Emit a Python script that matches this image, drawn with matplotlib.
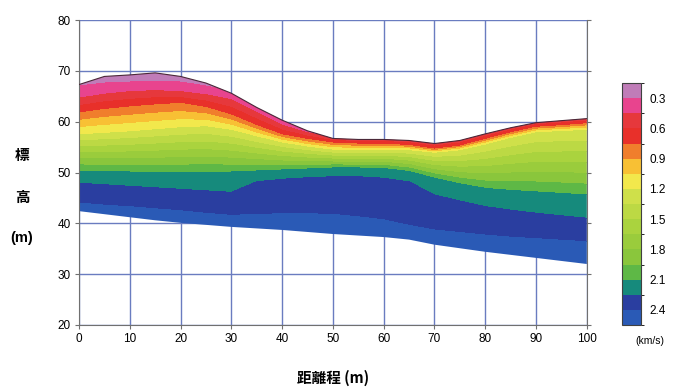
import numpy as np
import matplotlib
matplotlib.use("Agg")
import matplotlib.pyplot as plt
from matplotlib.colors import ListedColormap, BoundaryNorm
from matplotlib.patches import Polygon

# distance stations (m)
x_st = [0, 5, 10, 15, 20, 25, 30, 35, 40, 45, 50, 55, 60, 65, 70, 75, 80, 85, 90, 95, 100]

# ground surface and bottom of the section (elevation, m)
surface = [67.3, 68.9, 69.2, 69.6, 68.9, 67.6, 65.6, 62.8, 60.3, 58.2, 56.7, 56.5, 56.5, 56.3, 55.7, 56.3, 57.6, 58.8, 59.8, 60.2, 60.6]
bottom = [42.4, 41.8, 41.2, 40.6, 40.1, 39.7, 39.3, 39.0, 38.7, 38.3, 37.9, 37.6, 37.3, 36.8, 35.8, 35.1, 34.4, 33.8, 33.2, 32.6, 32.0]

# elevation of velocity contours (km/s -> elevation array)
e_015 = [72.0] * 21
e_03 = [67.0, 67.6, 67.8, 68.0, 67.8, 67.0, 66.0, 63.2, 60.6, 58.6, 57.2, 57.0, 57.0, 56.8, 56.2, 56.8, 58.1, 59.3, 60.3, 60.7, 61.1]
e_045 = [64.6, 65.4, 65.9, 66.1, 65.9, 65.3, 64.3, 61.8, 59.3, 57.8, 56.8, 56.6, 56.6, 56.4, 55.8, 56.4, 57.7, 58.9, 59.9, 60.3, 60.7]
e_075 = [61.7, 62.4, 62.9, 63.3, 63.6, 62.8, 61.3, 59.2, 57.4, 56.5, 55.8, 55.6, 55.6, 55.3, 54.6, 55.2, 56.5, 57.8, 58.9, 59.2, 59.6]
e_12 = [57.4, 57.7, 58.0, 58.4, 58.8, 59.0, 58.3, 57.0, 55.8, 55.0, 54.4, 54.3, 54.4, 54.3, 53.8, 54.3, 55.4, 56.7, 57.8, 58.1, 58.3]
e_21 = [50.3, 50.2, 50.1, 50.0, 50.0, 50.0, 50.1, 50.3, 50.5, 50.7, 50.9, 50.9, 50.8, 50.2, 48.9, 47.8, 46.9, 46.5, 46.2, 45.9, 45.6]
e_225 = [47.9, 47.6, 47.3, 47.0, 46.7, 46.4, 46.1, 48.2, 48.7, 49.0, 49.2, 49.2, 48.9, 48.2, 45.6, 44.4, 43.3, 42.6, 42.0, 41.5, 41.0]
e_24 = [44.0, 43.6, 43.3, 42.9, 42.5, 42.0, 41.6, 41.8, 41.9, 41.9, 41.8, 41.3, 40.7, 39.6, 38.7, 38.2, 37.7, 37.3, 37.0, 36.7, 36.4]
e_255 = [25.0] * 21

knot_vel = [0.15, 0.3, 0.45, 0.75, 1.2, 2.1, 2.25, 2.4, 2.55]
knot_elev = [e_015, e_03, e_045, e_075, e_12, e_21, e_225, e_24, e_255]

levels = [0.15, 0.3, 0.45, 0.6, 0.75, 0.9, 1.05, 1.2, 1.35, 1.5, 1.65, 1.8, 1.95, 2.1, 2.25, 2.4, 2.55]
band_colors = ['#c07cb8', '#e8448e', '#e6383c', '#e8302a', '#f07e2c', '#f8c034',
               '#f2e84c', '#cfe04a', '#bcd944', '#aad33e', '#9acc3c', '#8ac63c',
               '#5eb846', '#168a7c', '#2a3ea0', '#2a5ab6']
cbar_ticks = [0.3, 0.6, 0.9, 1.2, 1.5, 1.8, 2.1, 2.4]

# build velocity grid from the contour elevations
xg = np.linspace(0, 100, 501)
yg = np.linspace(25, 75, 501)
V = np.zeros((len(yg), len(xg)))
for j, xv in enumerate(xg):
    el = [np.interp(xv, x_st, e) for e in knot_elev]
    V[:, j] = np.interp(yg, el[::-1], knot_vel[::-1])

cmap = ListedColormap(band_colors)
norm = BoundaryNorm(levels, cmap.N)

fig = plt.figure(figsize=(6.78, 3.88), dpi=100)
ax = fig.add_axes([0.1165, 0.1624, 0.749, 0.786])

cs = ax.contourf(xg, yg, V, levels=levels, cmap=cmap, norm=norm, zorder=2)
verts = list(zip(x_st, surface)) + list(zip(x_st[::-1], bottom[::-1]))
clip = Polygon(verts, closed=True, transform=ax.transData)
cs.set_clip_path(clip)
ax.plot(x_st, surface, color='#4a2838', lw=0.8, zorder=3)

ax.set_xlim(0, 100)
ax.set_ylim(20, 80)
ax.set_xticks(range(0, 101, 10))
ax.set_yticks(range(20, 81, 10))
ax.grid(True, color='#6a7cc0', lw=1.0)
ax.set_axisbelow(True)
for s in ['left', 'bottom', 'right']:
    ax.spines[s].set_color('#707070')
ax.spines['top'].set_visible(False)
ax.tick_params(axis='both', length=3, color='#707070', labelsize=8.5, pad=3)
ax.tick_params(axis='y', right=True, direction='out')
for lab in ax.get_xticklabels() + ax.get_yticklabels():
    lab.set_family('Liberation Sans')

cjk = ['Noto Sans CJK JP', 'DejaVu Sans']
fig.text(22 / 678, 1 - 155 / 388, '標', family=cjk, fontsize=10.5, fontweight='bold', ha='center', va='center')
fig.text(22 / 678, 1 - 197 / 388, '高', family=cjk, fontsize=10.5, fontweight='bold', ha='center', va='center')
fig.text(22 / 678, 1 - 238 / 388, '(m)', family='Liberation Sans', fontsize=10.5, fontweight='bold', ha='center', va='center')
fig.text(333 / 678, 1 - 378 / 388, '距離程 (m)', family=cjk, fontsize=10.5, fontweight='bold', ha='center', va='center')

cax = fig.add_axes([622 / 678, 1 - 325 / 388, 19 / 678, 242 / 388])
cb = fig.colorbar(cs, cax=cax, ticks=cbar_ticks, drawedges=True)
cax.invert_yaxis()
cb.outline.set_edgecolor('#404040')
cb.dividers.set_color('#303030')
cb.dividers.set_linewidth(0.8)
cax.tick_params(length=0, labelsize=8.5, pad=6)
cax.set_yticklabels([f'{t:.1f}' for t in cbar_ticks], family='Liberation Sans')
fig.text(650 / 678, 1 - 341 / 388, '(km/s)', family='Liberation Sans', fontsize=7.5, ha='center', va='center')

fig.savefig('out.png', dpi=100)
